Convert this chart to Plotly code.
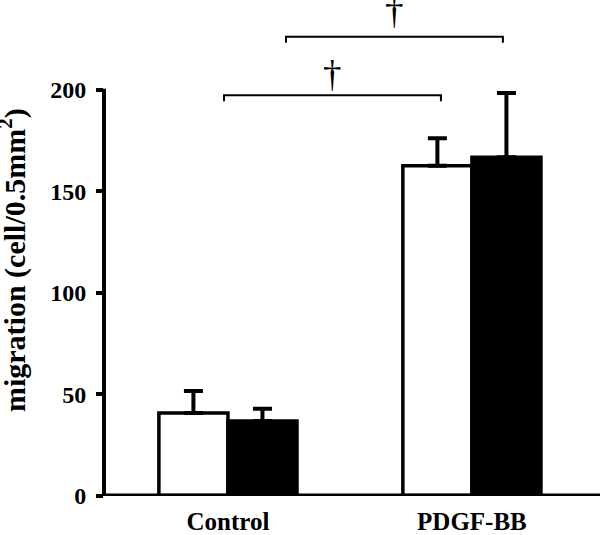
import plotly.graph_objects as go

categories = ["Control", "PDGF-BB"]
white_values = [40.7, 162.7]
white_errors = [10.9, 13.5]
black_values = [36.7, 166.9]
black_errors = [6.1, 31.6]
y_ticks = [0, 50, 100, 150, 200]

# significance brackets: (x_start, x_end, y_level, label)
brackets = [
    (-0.016, 0.873, 197.4, "†"),
    (0.238, 1.127, 226.3, "†"),
]
dagger_shift = [-2, 3]

FONT = "Liberation Serif, Times New Roman, serif"
xpos = [0, 1]
BW = 0.283

fig = go.Figure()
fig.add_trace(go.Bar(
    x=xpos, y=white_values, offset=-BW, width=BW,
    marker=dict(color="white", line=dict(color="black", width=3.5)),
    error_y=dict(type="data", symmetric=False, array=white_errors, arrayminus=[0, 0],
                 color="black", thickness=4, width=9.5),
    showlegend=False,
))
fig.add_trace(go.Bar(
    x=xpos, y=black_values, offset=0, width=BW,
    marker=dict(color="black", line=dict(color="black", width=3.5)),
    error_y=dict(type="data", symmetric=False, array=black_errors, arrayminus=[0, 0],
                 color="black", thickness=4, width=9.5),
    showlegend=False,
))

shapes = []
for x0, x1, yl, _ in brackets:
    shapes.append(dict(type="path", xref="x", yref="y",
                       path=f"M {x0},{yl-3} L {x0},{yl} L {x1},{yl} L {x1},{yl-3}",
                       line=dict(color="black", width=2)))
# axis lines
shapes.append(dict(type="line", xref="paper", yref="y", x0=0, x1=0, y0=0, y1=200.6,
                   line=dict(color="black", width=4)))
shapes.append(dict(type="line", xref="paper", yref="y", x0=-0.004, x1=1, y0=0, y1=0,
                   line=dict(color="black", width=4)))

annotations = []
for (x0, x1, yl, lab), ys in zip(brackets, dagger_shift):
    annotations.append(dict(x=(x0 + x1) / 2, y=yl, xref="x", yref="y", text=lab,
                            showarrow=False, yanchor="bottom", yshift=ys,
                            font=dict(family=FONT, size=37, color="black")))
annotations.append(dict(x=-0.184, y=116, xref="paper", yref="y",
                        text="<b>migration (cell/0.5mm<sup>2</sup>)</b>", textangle=-90,
                        showarrow=False, xanchor="center", yanchor="middle",
                        font=dict(family=FONT, size=30, color="black")))

fig.update_layout(
    width=600, height=535,
    margin=dict(l=104, r=0, t=0, b=35),
    plot_bgcolor="white", paper_bgcolor="white",
    barmode="overlay",
    shapes=shapes, annotations=annotations,
    xaxis=dict(range=[-0.508, 1.525], tickvals=xpos, ticktext=[f"<b>{c}</b>" for c in categories],
               showline=False, showgrid=False, zeroline=False,
               ticks="", ticklabelstandoff=8,
               tickfont=dict(family=FONT, size=25, color="black")),
    yaxis=dict(range=[-0.24, 244.4], tickvals=y_ticks, ticktext=[f"<b>{v}</b>" for v in y_ticks],
               showline=False, showgrid=False, zeroline=False,
               ticks="outside", ticklen=7, tickwidth=4, tickcolor="black",
               ticklabelstandoff=5,
               tickfont=dict(family=FONT, size=24, color="black")),
)

fig.write_html("out.html", config={"displayModeBar": False},
               post_script="document.body.style.margin='0px';"
                           "document.body.style.overflow='hidden';"
                           "document.documentElement.style.overflow='hidden';")
